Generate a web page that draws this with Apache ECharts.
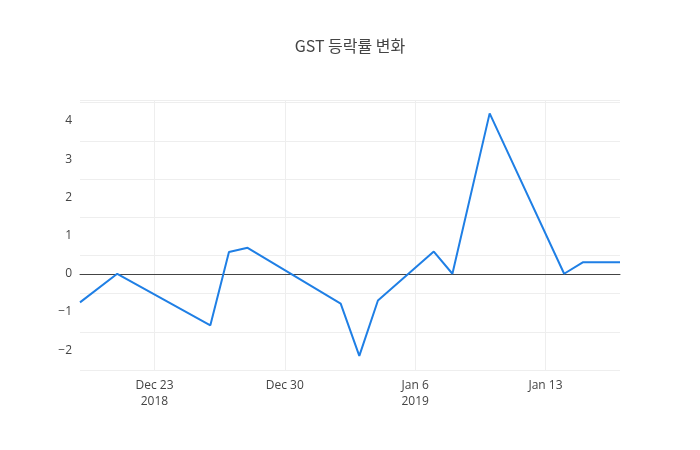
<!DOCTYPE html>
<html>
<head>
<meta charset="utf-8">
<script src="https://cdn.jsdelivr.net/npm/echarts@6/dist/echarts.min.js"></script>
<style>body{margin:0}#c{width:700px;height:450px}</style>
</head>
<body>
<div id="c"></div>
<script>
// 데이터
const dates = ['2018-12-19','2018-12-21','2018-12-26','2018-12-27','2018-12-28','2019-01-02','2019-01-03',
  '2019-01-04','2019-01-07','2019-01-08','2019-01-10','2019-01-14','2019-01-15','2019-01-17']
const values = [-0.75, 0, -1.35, 0.57, 0.68, -0.78, -2.15, -0.7, 0.58, 0, 4.2, 0, 0.3, 0.3]
const tickDates = ['2018-12-23', '2018-12-30', '2019-01-06', '2019-01-13']
const tickLabels = ['Dec 23\n2018', 'Dec 30', 'Jan 6\n2019', 'Jan 13']

const base = Date.UTC(2018, 11, 16)
const dayIdx = s => { const p = s.split('-'); return (Date.UTC(+p[0], p[1] - 1, +p[2]) - base) / 86400000 }
const tickIdx = tickDates.map(dayIdx)

let chart = echarts.init(document.getElementById('c'))
chart.setOption({
    animation: false,
    textStyle: { fontFamily: 'Open Sans' },
    title: { text: 'GST 등락률 변화', left: 'center', top: 33,
        textStyle: { fontFamily: 'Noto Sans CJK KR', fontWeight: 'normal', fontSize: 16, color: '#444' } },
    grid: { left: 80, right: 80, top: 100, bottom: 80 },
    xAxis: {
        type: 'value', min: dayIdx(dates[0]), max: dayIdx(dates[dates.length - 1]),
        axisLine: { show: true, onZero: true, lineStyle: { color: '#444', width: 1 } },
        axisTick: { show: false, customValues: tickIdx },
        splitLine: { show: true, lineStyle: { color: '#eee' } },
        axisLabel: {
            customValues: tickIdx, color: '#444', fontSize: 12, lineHeight: 16,
            formatter: v => tickLabels[tickIdx.indexOf(v)] || ''
        }
    },
    yAxis: {
        type: 'value', min: -2.52, max: 4.55, interval: 1,
        axisLine: { show: false }, axisTick: { show: false },
        splitLine: { lineStyle: { color: '#eee' } },
        axisLabel: {
            customValues: [-2, -1, 0, 1, 2, 3, 4], color: '#444', fontSize: 12,
            formatter: v => String(v).replace('-', '\u2212')
        }
    },
    series: [{
        type: 'line', showSymbol: false,
        data: dates.map((d, i) => [dayIdx(d), values[i]]),
        lineStyle: { color: '#1f7fe5', width: 2 }
    }]
})
</script>
</body>
</html>
